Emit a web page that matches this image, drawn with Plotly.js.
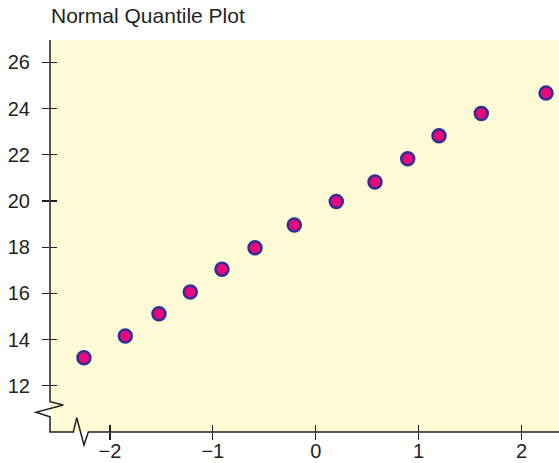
<!DOCTYPE html>
<html>
<head>
<meta charset="utf-8">
<script src="https://cdn.plot.ly/plotly-3.0.1.min.js"></script>
<style>html,body{margin:0;padding:0;background:#fff;}#chart{width:559px;height:463px;}</style>
</head>
<body>
<div id="chart"></div>
<script>
const normalQuantiles = [-2.252, -1.850, -1.523, -1.219, -0.911, -0.590, -0.208, 0.200, 0.576, 0.894, 1.198, 1.609, 2.238];
const observedValues  = [13.21, 14.15, 15.12, 16.06, 17.04, 17.97, 18.96, 19.98, 20.82, 21.83, 22.82, 23.79, 24.67];
const xTickVals = [-2, -1, 0, 1, 2];
const xTickText = ['\u22122', '\u22121', '0', '1', '2'];
const yTickVals = [12, 14, 16, 18, 20, 22, 24, 26];
const yTickText = ['12', '14', '16', '18', '20', '22', '24', '26'];
const chartTitle = 'Normal Quantile Plot';

const ink = '#231f20';
const xRange = [-2.582, 2.364];
const yRange = [9.996, 26.97];

const traces = [
  {
    type: 'scatter', mode: 'markers',
    x: normalQuantiles, y: observedValues,
    marker: {size: 13, color: '#e8087c', line: {color: '#2e3192', width: 2.5}},
    hoverinfo: 'x+y', showlegend: false
  },
  {
    type: 'scatter', mode: 'markers',
    x: normalQuantiles, y: observedValues, xaxis: 'x2', yaxis: 'y2',
    marker: {size: 1, opacity: 0}, hoverinfo: 'skip', showlegend: false
  }
];

const axisFont = {family: 'Liberation Sans, Arial, sans-serif', size: 20, color: ink};

// axis lines with break marks, in paper coordinates of the plot area
const breakPath = 'M 0 1 L 0 0.0773 L 0.0262 0.0689 L -0.0275 0.0502 L 0 0.039 L 0 0 ' +
                  'L 0.0459 0 L 0.0525 0.0365 L 0.0668 -0.0332 L 0.0753 0 L 1 0';

const layout = {
  width: 559, height: 463,
  margin: {l: 50, r: 0, t: 40, b: 31, pad: 0},
  paper_bgcolor: '#ffffff',
  plot_bgcolor: '#fffad6',
  title: {
    text: chartTitle,
    font: {family: 'Liberation Sans, Arial, sans-serif', size: 21, color: ink},
    x: 51 / 559, xref: 'container', xanchor: 'left',
    y: 1 - 16 / 463, yref: 'container', yanchor: 'middle'
  },
  xaxis: {
    range: xRange, tickvals: xTickVals, ticktext: xTickText,
    ticks: 'inside', ticklen: 7, tickwidth: 1.3, tickcolor: ink,
    showline: false, showgrid: false, zeroline: false,
    tickfont: axisFont, fixedrange: true, ticklabelstandoff: 5
  },
  xaxis2: {
    range: xRange, tickvals: xTickVals, overlaying: 'x', anchor: 'y', side: 'bottom',
    ticks: 'outside', ticklen: 7, tickwidth: 1.3, tickcolor: ink,
    showticklabels: false, showline: false, showgrid: false, zeroline: false, fixedrange: true
  },
  yaxis: {
    range: yRange, tickvals: yTickVals, ticktext: yTickText,
    ticks: 'outside', ticklen: 7, tickwidth: 1.3, tickcolor: ink,
    showline: false, showgrid: false, zeroline: false,
    tickfont: axisFont, fixedrange: true, ticklabelstandoff: 8
  },
  yaxis2: {
    range: yRange, tickvals: yTickVals, overlaying: 'y', anchor: 'x',
    ticks: 'inside', ticklen: 7, tickwidth: 1.3, tickcolor: ink,
    showticklabels: false, showline: false, showgrid: false, zeroline: false, fixedrange: true
  },
  shapes: [{
    type: 'path', xref: 'paper', yref: 'paper', layer: 'above',
    path: breakPath, line: {color: ink, width: 1.5}
  }]
};

Plotly.newPlot('chart', traces, layout, {displayModeBar: false, staticPlot: true});
</script>
</body>
</html>
